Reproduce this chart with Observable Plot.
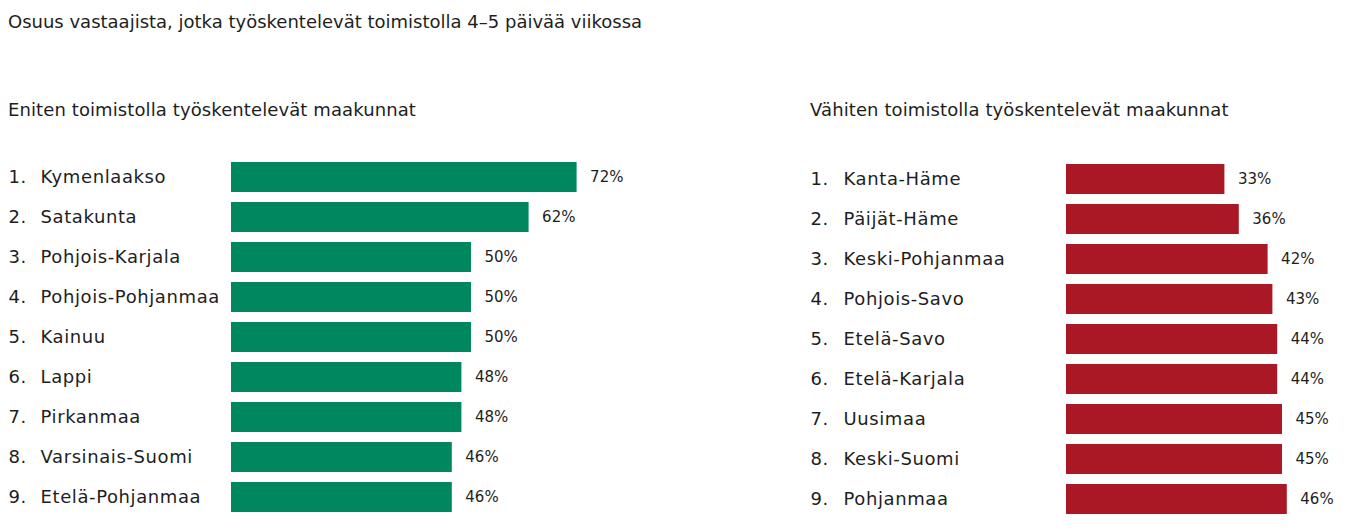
<!DOCTYPE html>
<html>
<head>
<meta charset="utf-8">
<script src="https://cdn.jsdelivr.net/npm/d3@7"></script>
<script src="https://cdn.jsdelivr.net/npm/@observablehq/plot@0.6"></script>
<style>
  html, body { margin: 0; padding: 0; background: #fff; }
  body { width: 1358px; height: 532px; position: relative; overflow: hidden;
         font-family: "DejaVu Sans", sans-serif; color: #1e1e1e; }
  #title { position: absolute; left: 8px; top: 10px; font-size: 18px; line-height: 24px; }
  .panel { position: absolute; top: 98px; }
  .sub { font-size: 18px; line-height: 24px; height: 22px; margin-left: 8px; letter-spacing: 0.1px; }
  svg { display: block; }
  svg > g:last-of-type text { letter-spacing: 0px; }
</style>
</head>
<body>
<div id="title">Osuus vastaajista, jotka työskentelevät toimistolla 4–5 päivää viikossa</div>
<div class="panel" id="left" style="left:0px"><div class="sub">Eniten toimistolla työskentelevät maakunnat</div></div>
<div class="panel" id="right" style="left:802px"><div class="sub">Vähiten toimistolla työskentelevät maakunnat</div></div>
<script>
const mostNames = ["Kymenlaakso", "Satakunta", "Pohjois-Karjala", "Pohjois-Pohjanmaa", "Kainuu", "Lappi", "Pirkanmaa", "Varsinais-Suomi", "Etelä-Pohjanmaa"];
const mostValues = [72, 62, 50, 50, 50, 48, 48, 46, 46];
const leastNames = ["Kanta-Häme", "Päijät-Häme", "Keski-Pohjanmaa", "Pohjois-Savo", "Etelä-Savo", "Etelä-Karjala", "Uusimaa", "Keski-Suomi", "Pohjanmaa"];
const leastValues = [33, 36, 42, 43, 44, 44, 45, 45, 46];

function panel(names, values, color, opts) {
  const data = names.map((n, i) => ({rank: (i + 1) + ".", name: n, value: values[i]}));
  const pxPer = 4.8;
  return Plot.plot({
    width: opts.marginLeft + pxPer * opts.xMax + opts.marginRight,
    height: 412,
    marginLeft: opts.marginLeft,
    marginRight: opts.marginRight,
    marginTop: opts.marginTop,
    marginBottom: 412 - opts.marginTop - 360,
    style: {fontFamily: "DejaVu Sans, sans-serif", color: "#1e1e1e", background: "transparent", letterSpacing: "0.6px"},
    x: {domain: [0, opts.xMax], axis: null},
    y: {domain: names, axis: null, paddingInner: 0.25, paddingOuter: 0.125},
    marks: [
      Plot.barX(data, {x: "value", y: "name", fill: color}),
      Plot.text(data, {y: "name", text: "rank", frameAnchor: "left", textAnchor: "start", dx: opts.rankDx, fontSize: 18, fill: "#1e1e1e"}),
      Plot.text(data, {y: "name", text: "name", frameAnchor: "left", textAnchor: "start", dx: opts.nameDx, fontSize: 18, fill: "#1e1e1e"}),
      Plot.text(data, {x: "value", y: "name", text: d => d.value + "%", textAnchor: "start", dx: 13, fontSize: 15, fill: "#1e1e1e"})
    ]
  });
}

document.getElementById("left").appendChild(panel(mostNames, mostValues, "#00875f",
  {marginLeft: 231, marginRight: 60, marginTop: 42 - 5, xMax: 80, rankDx: -223, nameDx: -191}));
document.getElementById("right").appendChild(panel(leastNames, leastValues, "#aa1826",
  {marginLeft: 264, marginRight: 50, marginTop: 44 - 5, xMax: 50, rankDx: -256, nameDx: -223}));
</script>
</body>
</html>
